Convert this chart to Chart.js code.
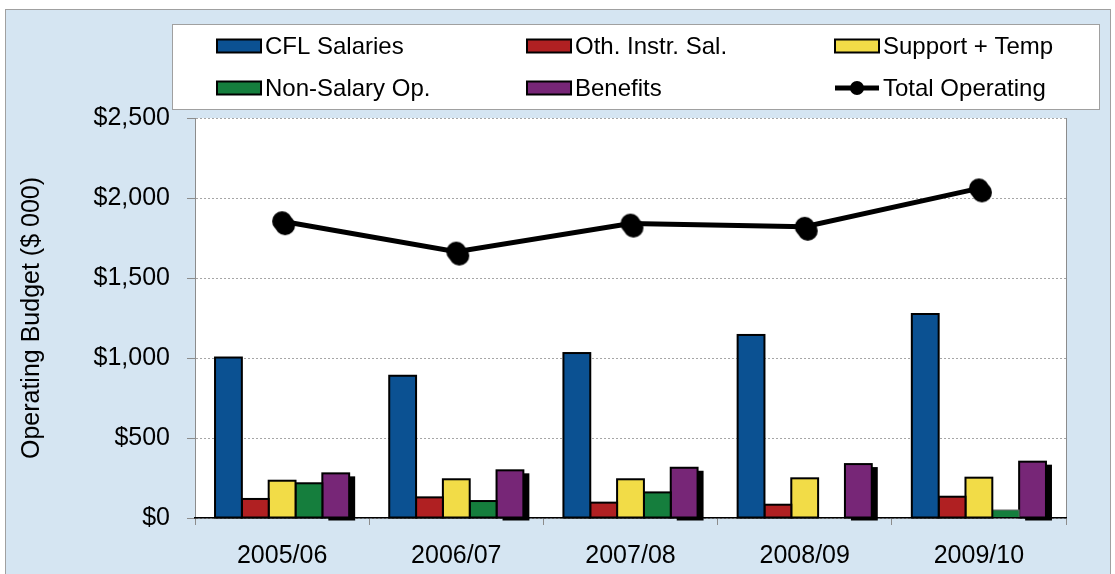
<!DOCTYPE html>
<html lang="en">
<head>
    <meta charset="UTF-8">
    <title>Operating Budget</title>
    <script src="https://cdn.jsdelivr.net/npm/chart.js"></script>
    <style>
        body { margin: 0; background: #fff; }
        canvas { display: block; }
    </style>
</head>
<body>
    <canvas id="budgetChart" width="1115" height="574"></canvas>

    <script>
        // Donnees ($ 000)
        const years = ['2005/06', '2006/07', '2007/08', '2008/09', '2009/10'];
        const cflSalaries = [1003, 889, 1031, 1144, 1275];
        const othInstrSal = [119, 129, 96, 83, 133];
        const supportTemp = [233, 242, 242, 248, 252];
        const nonSalaryOp = [217, 106, 160, 3, 50];
        const benefits = [279, 298, 314, 337, 352];
        const totalOperating = [1855, 1665, 1840, 1820, 2060];
        const yTicks = [0, 500, 1000, 1500, 2000, 2500];

        const seriesNames = ['CFL Salaries', 'Oth. Instr. Sal.', 'Support + Temp', 'Non-Salary Op.', 'Benefits', 'Total Operating'];
        const seriesColors = ['#0b5192', '#b02022', '#f2dc47', '#157e3d', '#772677', '#000000'];

        Chart.defaults.font.family = '"Liberation Sans", Arial, sans-serif';
        Chart.defaults.color = '#000';

        // marqueur rond avec ombre
        function makeMarker() {
            const c = document.createElement('canvas');
            c.width = 34; c.height = 34;
            const g = c.getContext('2d');
            g.fillStyle = '#000';
            g.beginPath(); g.arc(20, 21, 10, 0, Math.PI * 2); g.fill();
            g.beginPath(); g.arc(17, 17, 10, 0, Math.PI * 2); g.fill();
            return c;
        }

        // rectangle d'une barre, d'apres l'element calcule par Chart.js
        function barRect(el) {
            const p = el.getProps(['x', 'y', 'base', 'width'], true);
            const top = Math.min(p.y, p.base);
            return { x: p.x - p.width / 2, y: top, w: p.width, h: Math.abs(p.base - p.y) };
        }

        // fond bleu + zone de trace blanche
        const background = {
            id: 'background',
            beforeDraw(chart) {
                const { ctx, chartArea: a } = chart;
                ctx.save();
                ctx.fillStyle = '#fff';
                ctx.fillRect(0, 0, chart.width, chart.height);
                ctx.fillStyle = '#d5e5f2';
                ctx.fillRect(5, 9, 1105, 570);
                ctx.strokeStyle = '#a0a0a0';
                ctx.lineWidth = 1;
                ctx.strokeRect(5.5, 9.5, 1105, 570);
                ctx.fillStyle = '#fff';
                ctx.fillRect(a.left, a.top, a.right - a.left, a.bottom - a.top);
                ctx.strokeStyle = '#8c8c8c';
                ctx.beginPath();
                ctx.moveTo(a.right + 0.5, a.top);
                ctx.lineTo(a.right + 0.5, a.bottom);
                ctx.stroke();
                ctx.restore();
            }
        };

        // contours noirs des barres, ombre sur la derniere serie
        const barOutline = {
            id: 'barOutline',
            beforeDatasetDraw(chart, args) {
                if (args.index !== 4) return;
                const ctx = chart.ctx;
                ctx.save();
                ctx.fillStyle = '#000';
                args.meta.data.forEach(el => {
                    const r = barRect(el);
                    ctx.fillRect(r.x + 6, r.y + 3, r.w, r.h);
                });
                ctx.restore();
            },
            afterDatasetDraw(chart, args) {
                if (args.meta.type !== 'bar') return;
                const ctx = chart.ctx;
                ctx.save();
                ctx.strokeStyle = '#000';
                ctx.lineWidth = 2;
                args.meta.data.forEach(el => {
                    const r = barRect(el);
                    if (r.h < 1) {
                        ctx.lineWidth = 1;
                        ctx.strokeStyle = '#666';
                    }
                    ctx.strokeRect(r.x, r.y, r.w, r.h);
                });
                ctx.restore();
            }
        };

        // legende en boite, 3 colonnes x 2 lignes
        const boxLegend = {
            id: 'boxLegend',
            afterDraw(chart) {
                const ctx = chart.ctx;
                ctx.save();
                ctx.fillStyle = '#fff';
                ctx.fillRect(172, 24, 927, 85);
                ctx.strokeStyle = '#a0a0a0';
                ctx.lineWidth = 1;
                ctx.strokeRect(172.5, 24.5, 927, 85);
                const cols = [217, 527, 835];
                const rows = [46, 88];
                ctx.font = '24px "Liberation Sans", Arial, sans-serif';
                ctx.textBaseline = 'middle';
                seriesNames.forEach((name, i) => {
                    const x = cols[i % 3];
                    const y = rows[Math.floor(i / 3)];
                    if (i < 5) {
                        ctx.fillStyle = seriesColors[i];
                        ctx.fillRect(x, y - 6.5, 44, 13);
                        ctx.strokeStyle = '#000';
                        ctx.lineWidth = 2;
                        ctx.strokeRect(x, y - 6.5, 44, 13);
                    } else {
                        ctx.strokeStyle = '#000';
                        ctx.lineWidth = 5;
                        ctx.beginPath();
                        ctx.moveTo(x, y);
                        ctx.lineTo(x + 44, y);
                        ctx.stroke();
                        ctx.fillStyle = '#000';
                        ctx.beginPath();
                        ctx.arc(x + 22, y, 7, 0, Math.PI * 2);
                        ctx.fill();
                    }
                    ctx.fillStyle = '#000';
                    ctx.fillText(name, x + 48, y + 1);
                });
                ctx.restore();
            }
        };

        const barData = [cflSalaries, othInstrSal, supportTemp, nonSalaryOp, benefits];
        const datasets = barData.map((values, i) => ({
            type: 'bar',
            label: seriesNames[i],
            data: values,
            backgroundColor: seriesColors[i],
            borderWidth: 0,
            inflateAmount: 0,
            categoryPercentage: 0.77,
            barPercentage: 1.0
        }));
        datasets.push({
            type: 'line',
            label: seriesNames[5],
            data: totalOperating,
            borderColor: '#000',
            borderWidth: 5,
            pointStyle: makeMarker(),
            pointRadius: 10,
            tension: 0,
            order: -1
        });

        const ctx = document.getElementById('budgetChart').getContext('2d');
        const chart = new Chart(ctx, {
            type: 'bar',
            data: { labels: years, datasets: datasets },
            options: {
                responsive: false,
                animation: false,
                layout: { padding: { left: 0, top: 118, right: 49, bottom: 0 } },
                plugins: {
                    legend: { display: false },
                    tooltip: { enabled: false }
                },
                scales: {
                    x: {
                        grid: {
                            offset: true,
                            drawOnChartArea: false,
                            tickLength: 7,
                            color: '#8c8c8c'
                        },
                        border: { color: '#000', width: 1.5, z: 1 },
                        ticks: { font: { size: 25 }, padding: 16 },
                        afterFit(scale) { scale.height = 56; }
                    },
                    y: {
                        min: 0,
                        max: 2500,
                        afterBuildTicks(scale) {
                            scale.ticks = yTicks.map(v => ({ value: v }));
                        },
                        grid: {
                            color: '#a6a6a6',
                            tickLength: 8,
                            tickColor: '#8c8c8c'
                        },
                        border: { color: '#8c8c8c', width: 1, dash: [2, 2] },
                        ticks: {
                            font: { size: 25 },
                            padding: 17,
                            callback: v => '$' + v.toLocaleString('en-US')
                        },
                        title: {
                            display: true,
                            text: 'Operating Budget ($ 000)',
                            font: { size: 25 },
                            padding: { top: 17, bottom: 0 }
                        },
                        afterFit(scale) { scale.width = 195; }
                    }
                }
            },
            plugins: [background, barOutline, boxLegend]
        });
    </script>
</body>
</html>
